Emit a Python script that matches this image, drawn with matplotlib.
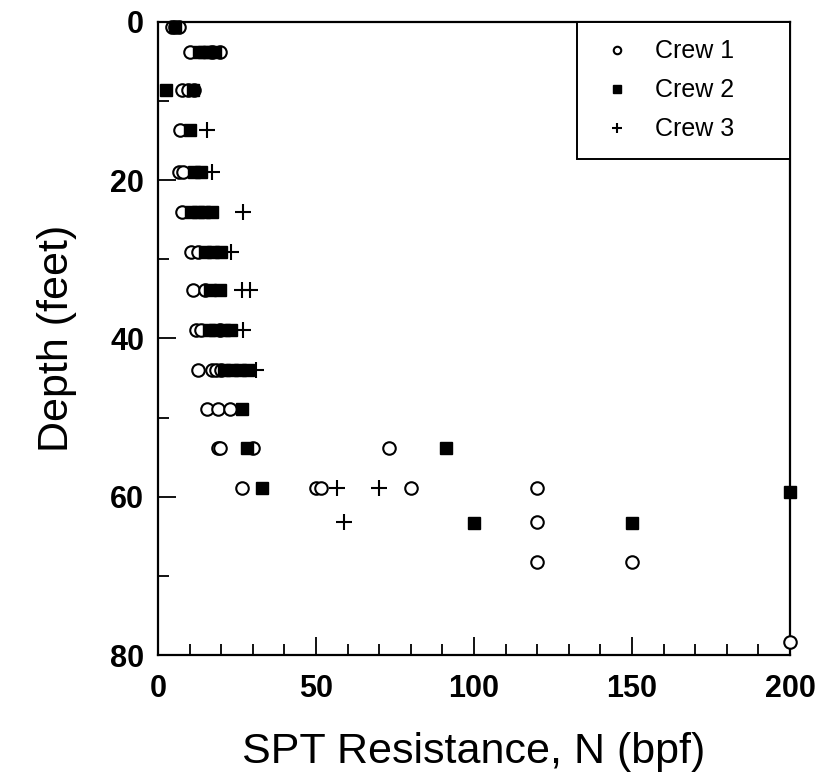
#!/usr/bin/env python3
# SPT resistance vs depth for three crews

import matplotlib
matplotlib.use("Agg")
import matplotlib.pyplot as plt
from matplotlib.ticker import MultipleLocator

plt.rcParams["font.family"] = ["Liberation Sans", "DejaVu Sans"]

# Crew 1 (open circles)
crew1_n = [4.5, 5.5, 6.5, 10, 17, 19.5, 7.5, 9.5, 11.5, 7, 6.5, 8, 7.5,
           10.5, 12.5, 11, 15, 12, 13.5, 19.5, 12.7, 17, 18.5, 20,
           15.5, 19, 22.8, 19, 19.6, 30, 73, 26.6, 50, 51.6, 80, 120,
           120, 120, 150, 200]
crew1_depth = [0.6, 0.6, 0.6, 3.8, 3.8, 3.8, 8.6, 8.6, 8.6, 13.7, 19.0, 19.0, 24.0,
               29.1, 29.1, 33.9, 33.9, 38.9, 38.9, 38.9, 44.0, 44.0, 44.0, 44.0,
               48.9, 48.9, 48.9, 53.9, 53.9, 53.9, 53.9, 58.9, 58.9, 58.9, 58.9, 58.9,
               63.2, 68.2, 68.2, 78.4]

# Crew 2 (filled squares)
crew2_n = [5.5, 13, 14.5, 16, 18, 2.5, 11, 10, 11.5, 13.5, 10.5, 12.5, 14.5, 17,
           15, 17.5, 20, 16.5, 19.5, 16, 18, 21, 23, 21, 23.5, 26, 28.5,
           26.5, 28, 91, 33, 200, 100, 150]
crew2_depth = [0.6, 3.8, 3.8, 3.8, 3.8, 8.6, 8.6, 13.7, 19.0, 19.0, 24.0, 24.0, 24.0, 24.0,
               29.1, 29.1, 29.1, 33.9, 33.9, 38.9, 38.9, 38.9, 38.9, 44.0, 44.0, 44.0, 44.0,
               48.9, 53.9, 53.9, 58.9, 59.4, 63.3, 63.3]

# Crew 3 (plus signs)
crew3_n = [15.5, 17, 27, 23, 26.5, 29, 27, 31, 56.6, 70, 59]
crew3_depth = [13.7, 19.0, 24.0, 29.1, 33.9, 33.9, 38.9, 44.0, 58.9, 58.9, 63.2]

fig = plt.figure(figsize=(8.23, 7.82), dpi=100)
ax = fig.add_axes([0.192, 0.1624, 0.768, 0.8095])

ax.plot(crew1_n, crew1_depth, "o", ms=9, mfc="white", mec="black", mew=1.5,
        label="Crew 1", clip_on=False, zorder=3)
ax.plot(crew2_n, crew2_depth, "s", ms=8.5, mfc="black", mec="black",
        label="Crew 2", clip_on=False, zorder=4)
ax.plot(crew3_n, crew3_depth, "+", ms=11, mec="black", mew=1.5,
        label="Crew 3", clip_on=False, zorder=5)

ax.set_xlim(0, 200)
ax.set_ylim(80, 0)
ax.xaxis.set_major_locator(MultipleLocator(50))
ax.xaxis.set_minor_locator(MultipleLocator(10))
ax.yaxis.set_major_locator(MultipleLocator(20))
ax.yaxis.set_minor_locator(MultipleLocator(10))

ax.tick_params(which="both", direction="in", top=False, right=False, width=1.3)
ax.tick_params(which="major", length=13)
ax.tick_params(which="minor", length=8)
ax.tick_params(axis="x", which="major", pad=14)
ax.tick_params(axis="y", which="major", pad=10)
for lab in ax.get_xticklabels() + ax.get_yticklabels():
    lab.set_fontsize(22)
    lab.set_fontweight("bold")

for sp in ax.spines.values():
    sp.set_linewidth(1.6)

ax.set_xlabel("SPT Resistance, N (bpf)", fontsize=31, labelpad=20)
ax.set_ylabel("Depth (feet)", fontsize=31, labelpad=24)

leg = ax.legend(loc="upper right", bbox_to_anchor=(0.663, 0.79, 0.337, 0.21),
                mode="expand", borderaxespad=0, fontsize=18, markerscale=0.6,
                fancybox=False, framealpha=1, edgecolor="black",
                borderpad=0.7, labelspacing=0.6, handletextpad=0.6,
                handlelength=1.8)
leg.get_frame().set_linewidth(1.4)

fig.savefig("out.png", dpi=100)
